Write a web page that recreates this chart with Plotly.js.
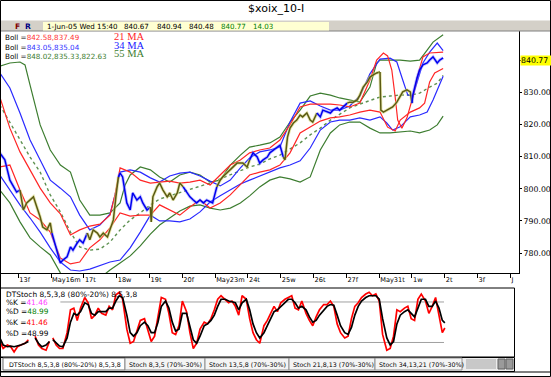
<!DOCTYPE html>
<html><head><meta charset="utf-8">
<script src="https://cdn.plot.ly/plotly-3.0.1.min.js"></script>
<style>html,body{margin:0;padding:0;background:#fff;}#chart{width:551px;height:377px;}</style>
</head><body><div id="chart"></div>
<script>
// ---------- DATA (x = 10-minute bar number, 39 bars per session; y = index value) ----------
const tickBars   = [0,39,78,117,156,195,234,273,312,351,390,429,468,507,546,585];
const tickLabels = ['13f','May16m','17t','18w','19t','20f','May23m','24t','25w','26t','27f','May31t','1w','2t','3f','J'];
const priceTicks = [780,790,800,810,820,830,840];
const priceTickLabels = ['780.00','790.00','800.00','810.00','820.00','830.00',''];

const priceBars = [-22,-16,-10,-6,-2,2,6,10,14,18, 22,26,29,34,38,40,44,46,50,53, 58,62,65,70,73,77,82,85,89,94,
  97,101,106,109,113,116,119,121,124,129, 133,136,141,145,148,153,157,158,160,165, 168,172,177,180,184,189,192,196,201,204,
  208,212,216,220,224,228,231,236,240,243, 248,252,255,260,264,267,272,275,279,284, 287,291,296,299,303,308,311,315,317,320,
  323,327,331,335,338,343,347,350,355,359, 362,367,371,374,379,382,386,391,394,398, 403,406,410,415,418,422,426,430,431,434,
  438,442,445,450,454,457,462,466,468,469, 474,477,481,486,489,493,498,501,505];
const priceVals = [811.2,809.0,802.7,800.6,799.0,799.6,793.4,795.6,796.5,797.5, 794.3,791.2,788.1,787.2,789.4,786.2,782.5,780.9,776.9,777.8,
  778.8,781.9,780.9,783.1,784.1,783.1,786.2,784.1,787.2,786.2, 785.0,786.2,785.0,787.2,790.3,797.5,803.7,804.9,803.7,795.6,
  793.4,798.7,796.5,797.5,795.6,793.4,794.3,789.7,797.5,800.6, 801.8,799.6,797.5,798.7,796.5,798.7,801.8,800.6,798.7,797.5,
  796.5,795.6,796.5,795.6,796.5,795.9,795.6,800.6,802.7,803.7, 804.9,805.9,806.8,808.0,808.0,808.0,806.8,809.0,811.2,809.9,
  808.0,809.0,809.9,811.2,812.1,813.0,813.6,809.9,809.0,816.1, 818.9,820.5,821.4,823.0,822.4,823.6,821.4,820.8,823.6,822.4,
  824.5,823.9,823.6,824.5,825.2,824.5,825.5,826.7,827.0,827.0, 827.7,829.2,831.7,833.3,834.8,835.5,836.1,836.4,824.5,823.9,
  824.5,825.2,825.5,827.0,828.6,830.2,830.8,830.2,826.7,829.2, 834.5,837.0,838.6,839.2,840.1,841.1,839.2,840.1,840.77];

// 21-bar bands (red)
const red21UpperBars = [-22,-10,2,14,26,38,50,62,73,85,97,109,115,121,133,145,157,168,180,192,204,216,228,240,252,264,275,287,299,311,
  323,335,347,359,371,382,394,406,418,426,434,439,444,448,451,456,462,469,475,481,489,505];
const red21Upper = [828.6,818.9,811.5,805.9,800.2,795.6,792.2,785.6,787.2,788.4,789.0,791.8,798.1,806.5,805.2,802.7,801.8,802.1,802.4,801.8,
  802.1,802.7,801.2,804.3,807.4,809.0,811.2,812.1,812.7,815.2,819.9,825.5,826.4,826.4,826.4,826.1,825.5,826.7,833.9,840.1,
  842.3,841.4,837.0,828.6,821.4,818.9,822.1,828.6,835.5,841.1,842.3,842.58];
const red21LowerBars = [-22,-10,2,14,26,38,50,62,73,85,97,109,121,133,145,157,168,180,192,204,216,228,240,252,264,275,287,299,311,323,
  335,347,359,371,382,394,406,418,430,439,448,454,466,477,483,489,495,505];
const red21Lower = [806.8,807.4,799.6,792.5,790.3,786.5,778.4,776.6,777.2,781.6,784.1,787.8,792.5,791.5,791.8,791.8,795.0,793.4,791.8,794.3,
  796.5,794.0,795.6,798.1,801.2,804.3,805.2,805.9,807.4,811.2,817.4,819.2,821.1,822.1,822.4,823.0,823.9,824.5,823.9,819.2,
  818.0,821.4,823.9,825.2,826.7,833.3,836.1,837.49];

// 34-bar bands (blue)
const blue34UpperBars = [-22,-10,2,14,26,38,50,62,73,85,97,109,115,121,133,145,157,168,180,192,204,216,228,240,252,264,275,287,299,311,
  323,335,347,359,371,382,394,406,418,430,442,450,457,463,469,475,481,489,498,505];
const blue34Upper = [836.1,831.4,823.6,815.2,809.0,802.7,800.2,797.5,791.8,787.2,788.7,792.1,798.1,805.2,805.9,805.2,803.4,802.1,804.0,804.9,
  805.2,804.0,802.4,800.9,802.7,806.5,809.6,811.5,812.1,813.0,820.8,826.7,827.4,825.8,824.5,824.5,825.8,828.9,835.8,840.4,
  840.7,839.5,833.9,829.2,828.9,833.9,839.2,842.6,845.4,843.05];
const blue34LowerBars = [-22,-10,2,14,26,38,50,62,73,85,97,109,121,133,145,157,168,180,192,204,216,228,240,252,264,275,287,299,311,323,
  335,347,359,371,382,394,406,418,430,438,445,454,466,477,486,493,501,505];
const blue34Lower = [804.3,799.6,795.0,790.9,786.5,781.6,777.2,774.7,774.4,775.0,776.0,777.2,777.8,781.6,786.5,791.8,790.0,790.0,789.7,790.6,
  792.8,795.9,797.8,799.6,801.5,802.7,804.0,805.2,806.5,807.4,808.7,812.7,818.3,820.8,821.4,821.4,822.1,821.4,822.4,820.5,
  818.3,819.3,822.4,823.0,823.9,827.7,832.6,835.04];

// 55-bar bands (green)
const green55UpperBars = [-22,-10,2,8,14,26,38,50,62,73,85,97,109,121,127,133,145,157,168,180,192,204,216,228,240,252,264,275,287,299,
  311,323,335,347,359,371,382,394,406,418,426,430,442,454,466,477,486,493,505];
const green55Upper = [838.2,839.2,839.5,838.6,832.3,819.9,812.1,807.4,805.2,796.5,791.8,791.8,792.5,795.6,801.2,804.3,806.8,805.9,803.7,802.1,
  804.3,805.2,804.3,802.1,802.7,807.4,810.5,813.0,813.6,814.3,816.1,820.8,824.5,828.9,829.8,829.2,828.3,827.7,827.0,831.7,
  839.2,840.1,840.1,840.1,839.8,840.1,843.2,845.7,848.02];
const green55Bars = [-22,-10,2,14,26,38,50,62,73,85,97,109,121,133,145,157,168,180,192,204,216,228,240,252,264,275,287,299,311,323,
  335,347,359,371,382,394,406,418,430,442,454,466,477,489,498,505];
const green55Mid = [826.1,820.8,815.2,809.9,805.2,798.1,792.8,786.5,781.9,780.9,781.2,783.4,787.2,790.3,792.5,795.0,796.8,797.8,799.0,799.9,
  800.9,801.8,803.1,804.3,805.5,806.8,807.7,809.3,810.5,812.4,814.3,816.8,818.9,821.4,823.3,825.2,826.4,827.4,828.6,828.9,
  829.2,829.2,829.8,831.7,832.9,835.33];
const green55Lower = [799.6,795.6,789.7,784.7,781.9,779.4,773.8,768.5,766.9,769.1,772.2,774.7,776.9,779.1,782.2,785.9,788.7,790.9,793.1,794.6,
  795.0,794.0,793.4,794.0,795.6,797.8,800.6,802.7,803.7,803.1,802.1,803.7,812.1,817.4,819.9,820.8,820.8,818.9,817.4,817.4,
  817.7,818.0,817.4,818.3,819.9,822.63];

// DTStoch 8,5,3,8  (%K red, %D black)
const stochBars = [-22,-18,-13,-9,-5,-1,3,8,12,16,20,24,28,33,37,39,
  41,45,49,53,58,62,66,70,74,79, 83,87,91,95,99,104,108,112,116,120, 124,129,133,137,141,145,150,154,158,162,
  166,170,175,179,183,187,191,195,200,204, 208,212,216,221,225,229,233,237,241,246, 250,254,258,262,266,271,275,279,283,287,
  292,296,300,304,308,312,317,321,325,329, 333,337,342,346,350,354,358,363,367,371, 375,379,383,388,392,396,400,404,408,413,
  417,421,425,429,433,438,442,446,450,454, 459,463,467,471,475,479,484,488,492,496, 500,504,507];
const stochK = [21.5,11.1,16.3,13.7,5.9,13.7,16.3,18.9,24.1,null,29.3,16.3,11.1,8.5,21.5,null,
  26.7,16.3,11.1,11.1,34.5,68.4,70.9,52.7,70.9,86.6, 78.8,55.3,60.5,70.9,63.1,60.5,73.5,68.4,90.7,94.4,
  84.0,39.7,18.9,21.5,37.1,52.7,55.3,39.7,21.5,29.3, 60.5,86.6,84.0,63.1,34.5,31.9,44.9,81.4,65.7,34.5,
  11.1,18.9,39.7,50.1,47.5,55.3,68.4,84.0,89.2,84.0, 78.8,81.4,73.5,60.5,89.2,84.0,55.3,34.5,24.1,18.9,
  44.9,52.7,63.1,73.5,65.7,78.8,84.0,86.6,89.2,70.9, 68.4,81.4,63.1,52.7,44.9,57.9,68.4,76.2,76.2,81.4,
  73.5,47.5,34.5,26.7,29.3,55.3,73.5,78.8,86.6,91.8, 94.4,89.2,91.8,81.4,31.9,8.5,11.1,29.3,68.4,65.7,
  70.9,73.5,55.3,52.7,84.0,91.8,81.4,63.1,73.5,86.6, 60.5,34.5,41.46];
const stochD = [26.7,16.3,13.7,14.7,13.7,14.7,16.3,18.9,21.5,null,26.7,18.9,13.7,16.3,21.5,null,
  24.1,18.9,14.7,13.7,26.7,50.1,63.1,60.5,65.7,78.8, 76.2,63.1,60.5,65.7,65.7,65.7,70.9,70.9,81.4,89.2,
  86.6,60.5,34.5,29.3,34.5,44.9,50.1,44.9,34.5,34.5, 50.1,73.5,81.4,70.9,50.1,37.1,39.7,63.1,63.1,44.9,
  24.1,18.9,29.3,44.9,47.5,52.7,60.5,73.5,84.0,84.0, 81.4,80.3,78.8,68.4,78.8,84.0,68.4,47.5,34.5,26.7,
  34.5,44.9,55.3,65.7,68.4,73.5,78.8,84.0,84.0,78.8, 70.9,73.5,68.4,57.9,50.1,52.7,60.5,68.4,73.5,76.2,
  75.1,60.5,44.9,34.5,31.9,42.3,60.5,73.5,81.4,86.6, 89.2,89.2,89.2,84.0,55.3,26.7,16.3,21.5,47.5,60.5,
  65.7,68.4,63.1,57.9,70.9,84.0,84.0,73.5,73.5,81.4, 70.9,52.7,48.99];
const stochLevels = [80,20];
const stochLevelBars = [50,506];

// ---------- STYLE ----------
const W = 551, H = 377;
const F = 'DejaVu Sans, Verdana, sans-serif';
const RED = '#ff2626', GREEN = '#3d7d30', OLIVE = '#5a5a14';
// price colour alternates by session (blue / olive)
const sessionColors = ['b','o','b','o','b','o','b','o','b','o','b','o','o','b'];

const traces = [];
function band(x, y, color, dash, width){
  traces.push({x:x, y:y, type:'scatter', mode:'lines', hoverinfo:'skip',
    line:{color:color, width:width||1.2, dash:dash||'solid'}});
}
band(green55UpperBars, green55Upper, GREEN);
band(green55Bars, green55Lower, GREEN);
band(green55Bars, green55Mid, '#5d9150', '3px,3px', 1.4);
band(blue34UpperBars, blue34Upper, '#2a2aff');
band(blue34LowerBars, blue34Lower, '#2a2aff');
band(red21UpperBars, red21Upper, RED);
band(red21LowerBars, red21Lower, RED);

// price segments per session
const segs = {};
priceBars.forEach((b,i)=>{ const s = Math.floor(b/39)+1; (segs[s]=segs[s]||[]).push(i); });
Object.keys(segs).forEach(k=>{
  const idx = segs[k].slice();
  const last = idx[idx.length-1];
  if (last+1 < priceBars.length) idx.push(last+1);
  const xs = idx.map(i=>priceBars[i]), ys = idx.map(i=>priceVals[i]);
  const isBlue = sessionColors[+k]==='b';
  traces.push({x:xs, y:ys, type:'scatter', mode:'lines', hoverinfo:'skip',
    line:{color: isBlue ? 'rgba(120,120,255,0.45)' : 'rgba(215,215,120,0.6)', width:3.2}});
  traces.push({x:xs, y:ys, type:'scatter', mode:'lines', hoverinfo:'skip',
    line:{color: isBlue ? '#0000f0' : OLIVE, width:1.5}});
});

// stochastic panel
stochLevels.forEach(v=>traces.push({x:stochLevelBars, y:[v,v], xaxis:'x2', yaxis:'y2', type:'scatter', mode:'lines',
  hoverinfo:'skip', line:{color:'#a0a0a0', width:1}}));
traces.push({x:stochBars, y:stochK, xaxis:'x2', yaxis:'y2', type:'scatter', mode:'lines', hoverinfo:'skip',
  line:{color:'#ff0000', width:1.7}});
traces.push({x:stochBars, y:stochD, xaxis:'x2', yaxis:'y2', type:'scatter', mode:'lines', hoverinfo:'skip',
  line:{color:'#000000', width:1.7}});

// ---------- helpers ----------
function txt(x, y, text, size, color, extra){
  return Object.assign({xref:'paper', yref:'paper', x:x/W, y:1-y/H, text:text, showarrow:false,
    xanchor:'left', yanchor:'middle', borderpad:0, font:{family:F, size:size, color:color||'#000'}}, extra||{});
}
function rect(x0,y0,x1,y1,fill,line,lw){
  return {type:'rect', xref:'paper', yref:'paper', x0:x0/W, x1:x1/W, y0:1-y0/H, y1:1-y1/H,
    fillcolor:fill||'rgba(0,0,0,0)', line:{color:line||'rgba(0,0,0,0)', width:lw||0}, layer:'above'};
}
function hline(x0,x1,y,color,w){ return {type:'line', xref:'paper', yref:'paper', x0:x0/W, x1:x1/W, y0:1-y/H, y1:1-y/H, line:{color:color, width:w||1}, layer:'above'}; }
const sp = (c,t)=>'<span style="color:'+c+'">'+t+'</span>';
const serif = (c)=>({font:{family:'Liberation Serif, serif', size:10.5, color:c}, height:8.5, valign:'middle'});

const shapes = [
  rect(0,20.5,551,31,'#d4d0c8','rgba(0,0,0,0)',0),
  hline(0,551,31,'#808080',1),
  rect(43,22,329,30.5,'#ffffd2','rgba(0,0,0,0)',0),
  // stochastic frame
  rect(0.5,288,514.5,357,'rgba(0,0,0,0)','#000',1),
  // tab strip
  rect(0.5,357.5,514.5,371.5,'#ececec','#000',1),
  rect(3,358,125,370,'#ffffff','#707070',1),
  rect(125,358,205,370,'#f4f4f4','#909090',1),
  rect(205,358,289,370,'#f4f4f4','#909090',1),
  rect(289,358,375,370,'#f4f4f4','#909090',1),
  rect(375,358,462,370,'#f4f4f4','#909090',1),
  rect(466,359,496,369,'#c8c8c8','rgba(0,0,0,0)',0),
  rect(498,359,505,369,'#9a9a9a','#606060',1),
  rect(506,359,513,369,'#9a9a9a','#606060',1),
  hline(0,551,372,'#000',1),
  // outer frame
  rect(0.5,0.5,550.5,376.5,'rgba(0,0,0,0)','#000',1)
];

const annotations = [
  txt(275.5,9,'$xoix_10-I',11,'#000',{xanchor:'center'}),
  txt(14,26,'<b>F</b>',7.6,'#800000'),
  txt(24,26,'<b>R</b>',7.6,'#000080'),
  txt(46,26.2,'1-Jun-05 Wed 15:40',7.1),
  txt(123,26.2,'840.67',7.1),
  txt(156,26.2,'840.94',7.1),
  txt(188,26.2,'840.48',7.1),
  txt(220,26.2,'840.77',7.1,'#008000'),
  txt(252,26.2,'14.03',7.1,'#008000'),
  txt(4,37,'Boll ='+sp('#ff3333','842.58,837.49'),7.2),
  txt(4,47,'Boll ='+sp('#3333ff','843.05,835.04'),7.2),
  txt(4,57,'Boll ='+sp('#3d7d30','848.02,835.33,822.63'),7.2),
  txt(113,36.5,'21 MA',10.5,RED,serif(RED)),
  txt(113,45.2,'34 MA',10.5,'#2020ff',serif('#2020ff')),
  txt(113,53.9,'55 MA',10.5,GREEN,serif(GREEN)),
  txt(519.5,60,'840.77',7.8,'#000',{bgcolor:'#ffff00',width:31,align:'left'}),
  txt(5,294,'DTStoch 8,5,3,8 (80%-20%) 8,5,3,8',7.4),
  txt(5,302.5,'%K ='+sp('#ff40ff','41.46'),7.4),
  txt(5,311,'%D ='+sp('#008000','48.99'),7.4),
  txt(5,322,'%K ='+sp('#ff0000','41.46'),7.4),
  txt(5,333,'%D ='+sp('#000000','48.99'),7.4),
  txt(8,364,'DTStoch 8,5,3,8 (80%-20%) 8,5,3,8',6.3),
  txt(128,364,'Stoch 8,3,5 (70%-30%)',6.3),
  txt(208,364,'Stoch 13,5,8 (70%-30%)',6.3),
  txt(292,364,'Stoch 21,8,13 (70%-30%)',6.3),
  txt(378,364,'Stoch 34,13,21 (70%-30%)',6.3)
];

const layout = {
  width:W, height:H, margin:{l:0,r:0,t:0,b:0}, paper_bgcolor:'#ffffff', plot_bgcolor:'#ffffff', showlegend:false,
  xaxis:{domain:[0,519/W], range:[-21.75,595.2], showgrid:false, zeroline:false, showline:true, linecolor:'#000', linewidth:1,
    ticks:'outside', ticklen:4, tickcolor:'#000', tickvals:tickBars, ticktext:tickLabels, ticklabelposition:'outside right',
    tickfont:{family:F, size:6.6, color:'#000'}, fixedrange:true},
  yaxis:{domain:[1-273/H, 1-31/H], range:[773.77,849.16], side:'right', showgrid:false, zeroline:false, showline:true,
    linecolor:'#000', linewidth:1, ticks:'outside', ticklen:2, tickcolor:'#000', tickvals:priceTicks, ticktext:priceTickLabels,
    tickfont:{family:F, size:7.8, color:'#000'}, fixedrange:true},
  xaxis2:{domain:[0,514/W], range:[-21.75,589.2], visible:false, anchor:'y2', fixedrange:true},
  yaxis2:{domain:[1-357/H, 1-288/H], range:[-1.5,100.7], visible:false, anchor:'x2', fixedrange:true},
  shapes:shapes, annotations:annotations
};
Plotly.newPlot('chart', traces, layout, {displayModeBar:false, staticPlot:true});
</script></body></html>
